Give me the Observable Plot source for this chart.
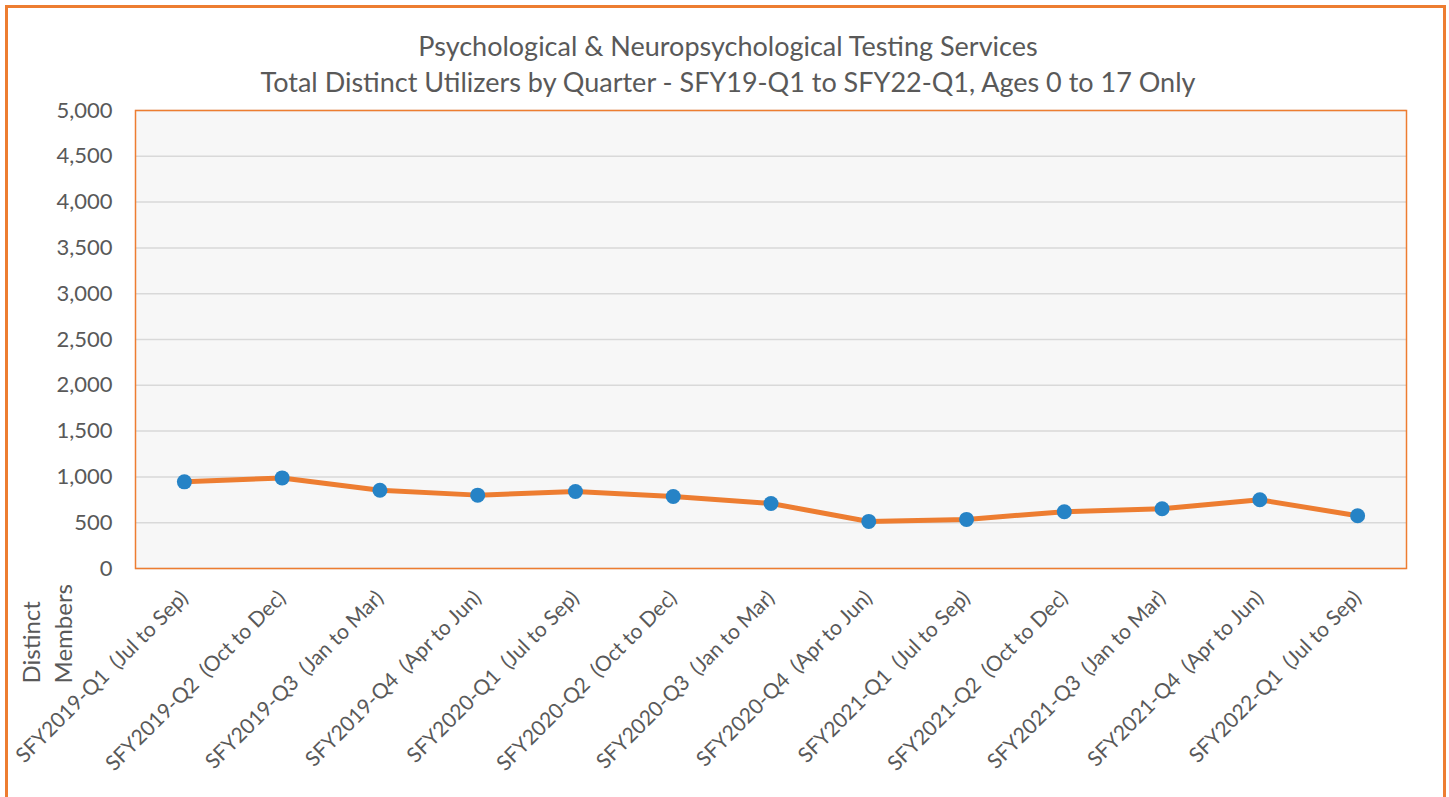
<!DOCTYPE html>
<html>
<head>
<meta charset="utf-8">
<script src="https://cdn.jsdelivr.net/npm/d3@7"></script>
<script src="https://cdn.jsdelivr.net/npm/@observablehq/plot@0.6"></script>
<style>
  html, body { margin: 0; padding: 0; background: #ffffff; }
  #wrap { position: relative; width: 1449px; height: 797px; overflow: hidden; background: #fff; font-family: Lato, "Open Sans", sans-serif; }
  #border { position: absolute; left: 5px; top: 5px; width: 1435px; height: 820px; border: 3px solid #ED7D31; box-sizing: content-box; }
  #title { position: absolute; left: 0; top: 28px; width: 1456px; text-align: center; color: #595959; font-size: 27px; line-height: 36px; }
  #chart { position: absolute; left: 0; top: 100px; }
</style>
</head>
<body>
<div id="wrap">
  <div id="border"></div>
  <div id="title">Psychological &amp; Neuropsychological Testing Services<br>Total Distinct Utilizers by Quarter - SFY19-Q1 to SFY22-Q1, Ages 0 to 17 Only</div>
  <div id="chart"></div>
</div>
<script>
const categories = [
  "SFY2019-Q1  (Jul to Sep)",
  "SFY2019-Q2  (Oct to Dec)",
  "SFY2019-Q3  (Jan to Mar)",
  "SFY2019-Q4  (Apr to Jun)",
  "SFY2020-Q1  (Jul to Sep)",
  "SFY2020-Q2  (Oct to Dec)",
  "SFY2020-Q3  (Jan to Mar)",
  "SFY2020-Q4  (Apr to Jun)",
  "SFY2021-Q1  (Jul to Sep)",
  "SFY2021-Q2  (Oct to Dec)",
  "SFY2021-Q3  (Jan to Mar)",
  "SFY2021-Q4  (Apr to Jun)",
  "SFY2022-Q1  (Jul to Sep)"
];
const values = [946, 989, 855, 801, 841, 786, 710, 514, 536, 620, 652, 750, 576];
const yTicks = [0, 500, 1000, 1500, 2000, 2500, 3000, 3500, 4000, 4500, 5000];
const yLabel = "Distinct\nMembers";

const data = categories.map((c, i) => ({ quarter: c, value: values[i] }));

const chart = Plot.plot({
  width: 1449,
  height: 697,
  marginTop: 10,
  marginBottom: 229,
  marginLeft: 135,
  marginRight: 43,
  style: { fontFamily: "Lato, 'Open Sans', sans-serif", color: "#595959", background: "transparent", overflow: "visible" },
  x: { type: "point", domain: categories, padding: 0.5, round: false },
  y: { domain: [0, 5000] },
  marks: [
    Plot.frame({ fill: "#F7F7F7", stroke: "none" }),
    Plot.gridY(yTicks, { stroke: "#D9D9D9", strokeOpacity: 1, strokeWidth: 1.5 }),
    Plot.frame({ stroke: "#ED7D31", strokeWidth: 1.5 }),
    Plot.axisY(yTicks, { tickSize: 0, tickPadding: 23, fontSize: 22, tickFormat: d3.format(","), label: null, fill: "#595959" }),
    Plot.axisX({ tickSize: 0, tickRotate: -45, tickPadding: 26, fontSize: 21, label: null, fill: "#595959" }),
    Plot.text([yLabel], { frameAnchor: "bottom-left", text: d => d, rotate: -90, textAnchor: "start", lineAnchor: "middle", lineHeight: 1.35, fontSize: 24, fill: "#595959", dx: -90, dy: 115 }),
    Plot.line(data, { x: "quarter", y: "value", stroke: "#ED7D31", strokeWidth: 5 }),
    Plot.dot(data, { x: "quarter", y: "value", r: 7.5, fill: "#2683C6", stroke: "none" })
  ]
});
document.getElementById("chart").appendChild(chart);
</script>
</body>
</html>
